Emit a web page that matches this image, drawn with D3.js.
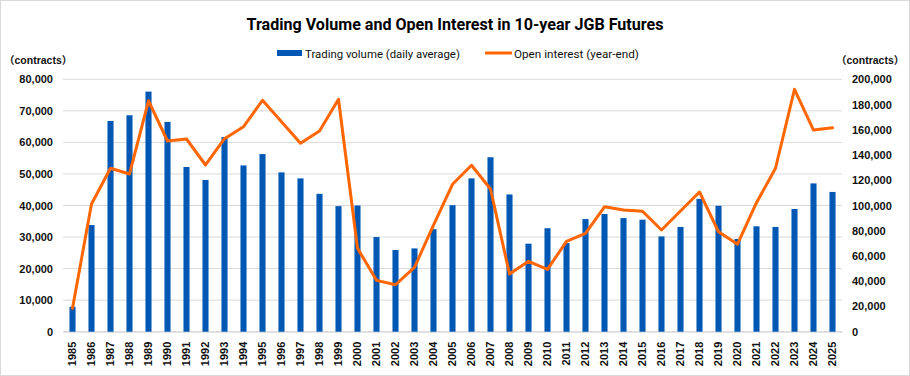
<!DOCTYPE html>
<html><head><meta charset="utf-8">
<script src="https://cdn.jsdelivr.net/npm/d3@7"></script>
<style>
html,body{margin:0;padding:0;background:#fff;}
svg{display:block;font-family:"Liberation Sans",Arial,sans-serif;}
</style></head>
<body>
<svg id="chart" width="910" height="376"></svg>
<script>
const years = ["1985","1986","1987","1988","1989","1990","1991","1992","1993","1994","1995","1996","1997","1998","1999","2000","2001","2002","2003","2004","2005","2006","2007","2008","2009","2010","2011","2012","2013","2014","2015","2016","2017","2018","2019","2020","2021","2022","2023","2024","2025"];
const tradingVolume = [7900,33800,66800,68600,76100,66500,52200,48100,61700,52700,56300,50500,48600,43700,39800,40000,30000,25900,26400,32500,40100,48600,55300,43500,27900,32800,28100,35700,37300,36000,35500,30200,33200,42100,39900,29400,33400,33200,38900,47000,44300];
const openInterest = [18500,101200,129500,125000,183000,151100,152700,132100,152900,162400,183400,166400,149300,159000,184200,66100,40700,37200,51000,84500,116800,131900,113100,45700,55800,49400,71600,78000,99000,96400,95400,80600,95600,110700,79200,69300,102200,129500,192100,159800,161600];
const leftTicks = [0,10000,20000,30000,40000,50000,60000,70000,80000];
const rightTicks = [0,20000,40000,60000,80000,100000,120000,140000,160000,180000,200000];
const titleText = "Trading Volume and Open Interest in 10-year JGB Futures";
const legendLabels = ["Trading volume (daily average)", "Open interest (year-end)"];
const unitLabel = "（contracts）";

const svg = d3.select("#chart");
const W = 910, H = 376;
const plot = {left: 63, right: 842, top: 79.3, bottom: 331.7};
const barColor = "#0058B4", lineColor = "#FF6600", gridColor = "#D9D9D9";

svg.append("rect").attr("x",0.5).attr("y",0.5).attr("width",W-1).attr("height",H-1)
  .attr("fill","#fff").attr("stroke","#D9D9D9");

const x = d3.scaleBand().domain(years).range([plot.left, plot.right]).paddingInner(0.68).paddingOuter(0.34);
const y = d3.scaleLinear().domain([0,80000]).range([plot.bottom, plot.top]);
const y2 = d3.scaleLinear().domain([0,200000]).range([plot.bottom, plot.top]);
const fmt = d3.format(",");

// gridlines
svg.append("g").selectAll("line").data(leftTicks).join("line")
  .attr("x1",plot.left).attr("x2",plot.right)
  .attr("y1",d=>y(d)).attr("y2",d=>y(d))
  .attr("stroke",gridColor).attr("stroke-width",1);

// left axis
const yAxis = svg.append("g").attr("transform",`translate(${plot.left},0)`)
  .call(d3.axisLeft(y).tickValues(leftTicks).tickFormat(fmt).tickSize(0).tickPadding(10));
yAxis.select(".domain").remove();
yAxis.selectAll("text").attr("font-size",11).attr("font-weight","bold").attr("fill","#111").attr("font-family","Liberation Sans, Arial, sans-serif");

// right axis
const y2Axis = svg.append("g").attr("transform",`translate(${plot.right},0)`)
  .call(d3.axisRight(y2).tickValues(rightTicks).tickFormat(fmt).tickSize(0).tickPadding(10));
y2Axis.select(".domain").remove();
y2Axis.selectAll("text").attr("font-size",11).attr("font-weight","bold").attr("fill","#111").attr("font-family","Liberation Sans, Arial, sans-serif");

// x axis
const xAxis = svg.append("g").attr("transform",`translate(0,${plot.bottom})`)
  .call(d3.axisBottom(x).tickSize(0).tickPadding(0));
xAxis.select(".domain").attr("stroke",gridColor);
xAxis.selectAll("text").attr("font-size",11).attr("font-weight","bold").attr("fill","#111")
  .attr("font-family","Liberation Sans, Arial, sans-serif")
  .attr("transform","rotate(-90)").attr("text-anchor","end").attr("dy","0.35em").attr("x",-10).attr("y",0);

// bars
svg.append("g").selectAll("rect").data(years).join("rect")
  .attr("x",d=>x(d)).attr("width",x.bandwidth())
  .attr("y",(d,i)=>y(tradingVolume[i])).attr("height",(d,i)=>y(0)-y(tradingVolume[i]))
  .attr("fill",barColor);

// line
const line = d3.line().x((d,i)=>x(years[i])+x.bandwidth()/2).y(d=>y2(d));
svg.append("path").datum(openInterest).attr("d",line)
  .attr("fill","none").attr("stroke",lineColor).attr("stroke-width",3).attr("stroke-linejoin","round").attr("stroke-linecap","round");

// unit labels
[4, 836].forEach(ux=>{
  svg.append("text").attr("x",ux).attr("y",64)
    .attr("font-family","Liberation Sans, 'Noto Sans CJK JP', sans-serif")
    .attr("font-size",10.5).attr("font-weight","bold").attr("fill","#111").text(unitLabel);
});

// title
const t = svg.append("text").attr("x",455).attr("y",29.5).attr("text-anchor","middle")
  .attr("font-family","Roboto, sans-serif").attr("font-size",16).attr("font-weight","bold").attr("fill","#000").text(titleText);
const tw = t.node().getComputedTextLength();
t.attr("font-size", 16*417/tw);

// legend
const lg = svg.append("g");
lg.append("rect").attr("x",277).attr("y",50).attr("width",25).attr("height",6).attr("fill",barColor);
const l1 = lg.append("text").attr("x",305).attr("y",57.5).attr("font-family","Roboto, sans-serif").attr("font-size",12).attr("fill","#111").text(legendLabels[0]);
l1.attr("font-size", 12*155/l1.node().getComputedTextLength());
lg.append("line").attr("x1",485).attr("x2",512).attr("y1",53).attr("y2",53).attr("stroke",lineColor).attr("stroke-width",3);
const l2 = lg.append("text").attr("x",514).attr("y",57.5).attr("font-family","Roboto, sans-serif").attr("font-size",12).attr("fill","#111").text(legendLabels[1]);
l2.attr("font-size", 12*125/l2.node().getComputedTextLength());
</script>
</body></html>
